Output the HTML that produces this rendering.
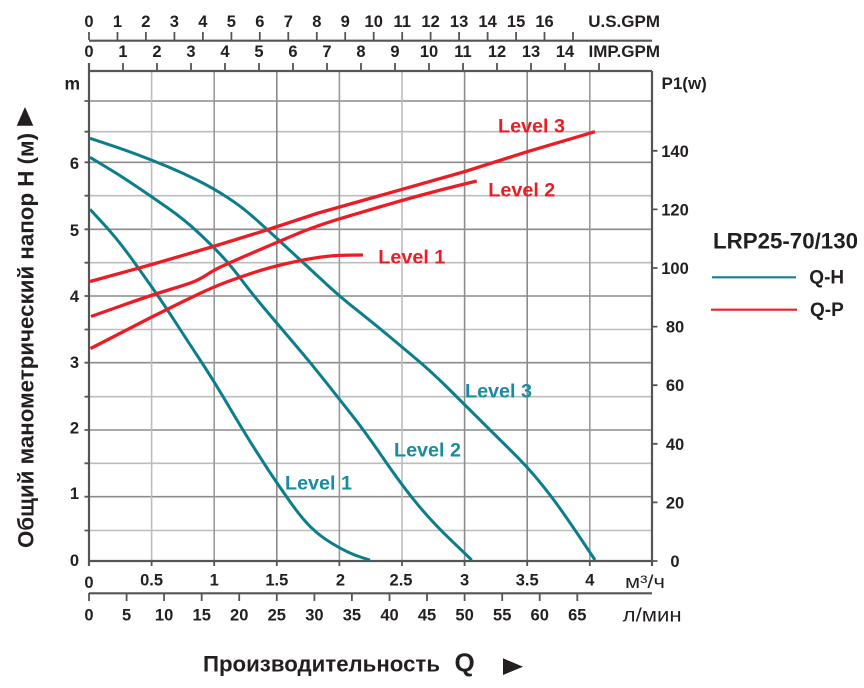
<!DOCTYPE html>
<html><head><meta charset="utf-8"><style>
html,body{margin:0;padding:0;background:#fff;}
svg{display:block;}
text{font-family:"Liberation Sans",Arial,sans-serif;font-weight:bold;fill:#231f20;}
.t{font-size:16.5px;text-anchor:middle;}
.lv{font-size:19.5px;}
</style></head><body>
<svg width="864" height="688" viewBox="0 0 864 688" xmlns="http://www.w3.org/2000/svg">
<rect width="864" height="688" fill="#fff"/>
<!-- grid horizontal -->
<g stroke-width="1.6">
<line x1="89" x2="652" y1="101" y2="101" stroke="#8c8c8c"/>
<line x1="89" x2="652" y1="131.7" y2="131.7" stroke="#bdbdbd"/>
<line x1="89" x2="652" y1="162.3" y2="162.3" stroke="#8c8c8c"/>
<line x1="89" x2="652" y1="195.7" y2="195.7" stroke="#bdbdbd"/>
<line x1="89" x2="652" y1="229.3" y2="229.3" stroke="#8c8c8c"/>
<line x1="89" x2="652" y1="262.7" y2="262.7" stroke="#bdbdbd"/>
<line x1="89" x2="652" y1="296" y2="296" stroke="#8c8c8c"/>
<line x1="89" x2="652" y1="329.5" y2="329.5" stroke="#bdbdbd"/>
<line x1="89" x2="652" y1="362.7" y2="362.7" stroke="#8c8c8c"/>
<line x1="89" x2="652" y1="396.7" y2="396.7" stroke="#bdbdbd"/>
<line x1="89" x2="652" y1="430" y2="430" stroke="#8c8c8c"/>
<line x1="89" x2="652" y1="463.3" y2="463.3" stroke="#bdbdbd"/>
<line x1="89" x2="652" y1="496.7" y2="496.7" stroke="#8c8c8c"/>
<line x1="89" x2="652" y1="530.5" y2="530.5" stroke="#bdbdbd"/>
</g>
<!-- grid vertical -->
<g stroke-width="1.6">
<line y1="71" y2="561" x1="151.6" x2="151.6" stroke="#bdbdbd"/>
<line y1="71" y2="561" x1="214.2" x2="214.2" stroke="#9a9a9a"/>
<line y1="71" y2="561" x1="276.8" x2="276.8" stroke="#8c8c8c"/>
<line y1="71" y2="561" x1="339.4" x2="339.4" stroke="#9a9a9a"/>
<line y1="71" y2="561" x1="402" x2="402" stroke="#bdbdbd"/>
<line y1="71" y2="561" x1="464.6" x2="464.6" stroke="#8c8c8c"/>
<line y1="71" y2="561" x1="527.2" x2="527.2" stroke="#8c8c8c"/>
<line y1="71" y2="561" x1="589.8" x2="589.8" stroke="#9a9a9a"/>
</g>
<!-- axes -->
<g stroke="#555" stroke-width="2.2" fill="none">
<line x1="89" y1="40.7" x2="652" y2="40.7"/>
<line x1="89" y1="71" x2="652" y2="71"/>
<line x1="89" y1="63" x2="89" y2="566"/>
<line x1="652" y1="71" x2="652" y2="566"/>
<line x1="88" y1="561" x2="653" y2="561"/>
<line x1="89" y1="593.3" x2="652" y2="593.3"/>
</g>
<g stroke="#555" stroke-width="1.8">
<path d="M89 32V40M117.5 32V40M145.9 32V40M174.4 32V40M202.9 32V40M231.4 32V40M259.8 32V40M288.3 32V40M316.8 32V40M345.2 32V40M373.7 32V40M402.2 32V40M430.6 32V40M459.1 32V40M487.6 32V40M516.1 32V40M544.5 32V40M573 32V40"/>
<path d="M89 63V71M123 63V71M157 63V71M191 63V71M225 63V71M259 63V71M293 63V71M327 63V71M361 63V71M395 63V71M429 63V71M463 63V71M497 63V71M531 63V71M565 63V71M599 63V71"/>
<path d="M151.6 561V566M214.2 561V566M276.8 561V566M339.4 561V566M402 561V566M464.6 561V566M527.2 561V566M589.8 561V566"/>
<path d="M89 593V601M126.6 593V601M164.1 593V601M201.7 593V601M239.2 593V601M276.8 593V601M314.4 593V601M351.9 593V601M389.5 593V601M427 593V601M464.6 593V601M502.2 593V601M539.7 593V601M577.3 593V601"/>
<path d="M84.5 101H89M84.5 131.7H89M84.5 162.3H89M84.5 195.7H89M84.5 229.3H89M84.5 262.7H89M84.5 296H89M84.5 329.5H89M84.5 362.7H89M84.5 396.7H89M84.5 430H89M84.5 463.3H89M84.5 496.7H89M84.5 530.5H89"/>
<path d="M652 150.8H657.5M652 209.4H657.5M652 268H657.5M652 326.6H657.5M652 385.2H657.5M652 443.8H657.5M652 502.4H657.5M652 561H657.5"/>
</g>
<!-- top labels -->
<g class="t">
<text x="89" y="27">0</text><text x="117.5" y="27">1</text><text x="145.9" y="27">2</text><text x="174.4" y="27">3</text><text x="202.9" y="27">4</text><text x="231.4" y="27">5</text><text x="259.8" y="27">6</text><text x="288.3" y="27">7</text><text x="316.8" y="27">8</text><text x="345.2" y="27">9</text><text x="373.7" y="27">10</text><text x="402.2" y="27">11</text><text x="430.6" y="27">12</text><text x="459.1" y="27">13</text><text x="487.6" y="27">14</text><text x="516.1" y="27">15</text><text x="544.5" y="27">16</text>
<text x="89" y="57">0</text><text x="123" y="57">1</text><text x="157" y="57">2</text><text x="191" y="57">3</text><text x="225" y="57">4</text><text x="259" y="57">5</text><text x="293" y="57">6</text><text x="327" y="57">7</text><text x="361" y="57">8</text><text x="395" y="57">9</text><text x="429" y="57">10</text><text x="463" y="57">11</text><text x="497" y="57">12</text><text x="531" y="57">13</text><text x="565" y="57">14</text>
</g>
<text x="660" y="27" font-size="17" text-anchor="end">U.S.GPM</text>
<text x="660" y="57" font-size="17" text-anchor="end">IMP.GPM</text>
<!-- left labels -->
<text x="64.5" y="89.5" font-size="17.5">m</text>
<g class="t">
<text x="74.5" y="169">6</text><text x="74.5" y="236">5</text><text x="74.5" y="302">4</text><text x="74.5" y="368">3</text><text x="74.5" y="433.5">2</text><text x="74.5" y="499">1</text><text x="74.5" y="566">0</text>
</g>
<!-- right labels -->
<text x="661.5" y="89" font-size="17">P1(w)</text>
<g class="t">
<text x="675" y="157">140</text><text x="675" y="215.5">120</text><text x="675" y="274">100</text><text x="675" y="332.6">80</text><text x="675" y="391">60</text><text x="675" y="449.8">40</text><text x="675" y="508.4">20</text><text x="675" y="567">0</text>
</g>
<!-- bottom labels -->
<g class="t">
<text x="89" y="588">0</text><text x="151.6" y="585.5">0.5</text><text x="214.2" y="585.5">1</text><text x="276.8" y="585.5">1.5</text><text x="340.5" y="585.5">2</text><text x="401" y="585.5">2.5</text><text x="464.6" y="585.5">3</text><text x="527.2" y="585.5">3.5</text><text x="589.8" y="585.5">4</text>
<text x="89" y="620.5">0</text><text x="126.6" y="620.5">5</text><text x="164.1" y="620.5">10</text><text x="201.7" y="620.5">15</text><text x="239.2" y="620.5">20</text><text x="276.8" y="620.5">25</text><text x="314.4" y="620.5">30</text><text x="351.9" y="620.5">35</text><text x="389.5" y="620.5">40</text><text x="427" y="620.5">45</text><text x="464.6" y="620.5">50</text><text x="502.2" y="620.5">55</text><text x="539.7" y="620.5">60</text><text x="577.3" y="620.5">65</text>
</g>
<text x="625" y="588" font-size="18" style="font-weight:normal" textLength="40" lengthAdjust="spacingAndGlyphs">м³/ч</text>
<text x="622.7" y="621.5" font-size="19" style="font-weight:normal" textLength="59" lengthAdjust="spacingAndGlyphs">л/мин</text>
<!-- axis titles -->
<text transform="translate(33.3,548) rotate(-90)" font-size="22" textLength="415" lengthAdjust="spacingAndGlyphs">Общий манометрический напор H (м)</text>
<polygon points="25,107 16.7,125.7 33.3,125.7" fill="#231f20"/>
<text x="203" y="671.7" font-size="22" textLength="237" lengthAdjust="spacingAndGlyphs">Производительность</text>
<text x="454.5" y="671.5" font-size="26">Q</text>
<polygon points="503,658.3 503,675 523,666.7" fill="#231f20"/>
<!-- legend -->
<text x="713" y="248.3" font-size="22" textLength="145" lengthAdjust="spacingAndGlyphs">LRP25-70/130</text>
<line x1="712" y1="277.3" x2="796" y2="277.3" stroke="#0f8396" stroke-width="2.2"/>
<text x="809.3" y="283.5" font-size="19">Q-H</text>
<line x1="711" y1="309.7" x2="797" y2="309.7" stroke="#ed1c24" stroke-width="2.2"/>
<text x="810" y="316" font-size="19">Q-P</text>
<!-- curves -->
<g fill="none" stroke-linejoin="round" stroke-linecap="butt">
<path stroke="#0b7d8c" stroke-width="3" d="M90,138.3 L105.5,143.4 Q121,148.5 136.35,154.25 Q151.7,160 167.35,166.5 Q183,173 198.15,180.65 Q213.3,188.3 227.5,197.5 Q241.7,206.7 254.2,217.85 Q266.7,229 278.35,239.75 Q290,250.5 302.5,262 Q315,273.5 327.5,285.1 Q340,296.7 357.5,310.6 Q375,324.5 388.35,335.6 Q401.7,346.7 416.7,359.35 Q431.7,372 448.35,388.5 Q465,405 478.35,418.35 Q491.7,431.7 509.5,449.2 Q527.3,466.7 539.5,481.7 Q551.7,496.7 561.7,510.85 Q571.7,525 583.35,542.5 L595,560"/>
<path stroke="#0b7d8c" stroke-width="3" d="M90,157.3 L105.5,166.65 Q121,176 136.35,186.35 Q151.7,196.7 168.35,208.35 Q185,220 199.15,233.35 Q213.3,246.7 222.5,256.7 Q231.7,266.7 241.7,280 Q251.7,293.3 265,309.15 Q278.3,325 294.15,343.5 Q310,362 325,381 Q340,400 352.5,415.85 Q365,431.7 383.35,458.35 Q401.7,485 416.7,503.35 Q431.7,521.7 451.7,540.85 L471.7,560"/>
<path stroke="#0b7d8c" stroke-width="3" d="M90,209.3 L104.15,224.65 Q118.3,240 135,263.35 Q151.7,286.7 160,298.85 Q168.3,311 176.65,324 Q185,337 199.15,358.5 Q213.3,380 227.5,404.15 Q241.7,428.3 253.35,446.65 Q265,465 271.65,475 Q278.3,485 290,501.65 Q301.7,518.3 310.85,527.15 Q320,536 330,542.15 Q340,548.3 347.5,551.9 Q355,555.5 362.5,557.75 L370,560"/>
<polyline stroke="#ed1c24" stroke-width="3.3" points="90,281.5 151.7,264.5 213.3,246.5 266.7,230 318.3,213 375,197 465,171.5 527.3,151.7 595,131.7"/>
<path stroke="#ed1c24" stroke-width="3.3" d="M91,316.5 L121.35,305.75 Q151.7,295 170.85,289.25 Q190,283.5 196,280.75 Q202,278 207.65,274.25 Q213.3,270.5 220.8,266.9 Q228.3,263.3 253.3,252.5 Q278.3,241.7 298.3,233.35 Q318.3,225 346.65,216.65 Q375,208.3 388.35,204.4 Q401.7,200.5 420.85,195.25 Q440,190 458.35,185.5 L476.7,181"/>
<path stroke="#ed1c24" stroke-width="3.3" d="M90.5,348.5 L108.6,339.25 Q126.7,330 139.2,323.5 Q151.7,317 166.85,309.5 Q182,302 197.65,294.5 Q213.3,287 226.65,282 Q240,277 253.35,272.65 Q266.7,268.3 284.2,264.15 Q301.7,260 313.35,258.25 Q325,256.5 331.65,255.9 Q338.3,255.3 350.65,255.15 L363,255"/>
</g>
<!-- level labels -->
<g class="lv">
<text x="498" y="132.3" style="fill:#ed1c24" textLength="67" lengthAdjust="spacingAndGlyphs">Level 3</text>
<text x="488.3" y="196.7" style="fill:#ed1c24" textLength="67" lengthAdjust="spacingAndGlyphs">Level 2</text>
<text x="378.3" y="263.3" style="fill:#ed1c24" textLength="67" lengthAdjust="spacingAndGlyphs">Level 1</text>
<text x="465" y="397.3" style="fill:#1a8aa0" textLength="67" lengthAdjust="spacingAndGlyphs">Level 3</text>
<text x="394" y="456.7" style="fill:#1a8aa0" textLength="67" lengthAdjust="spacingAndGlyphs">Level 2</text>
<text x="285" y="489.3" style="fill:#1a8aa0" textLength="67" lengthAdjust="spacingAndGlyphs">Level 1</text>
</g>
</svg>
</body></html>
